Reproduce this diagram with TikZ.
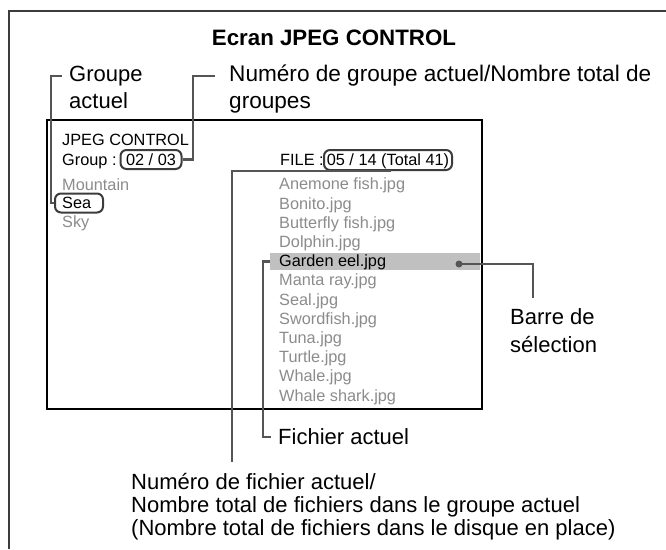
\documentclass[tikz,border=0pt]{standalone}
\usepackage{fontspec}
\setmainfont{Liberation Sans}
\definecolor{inact}{RGB}{140,140,140}
\definecolor{leadc}{RGB}{85,85,85}
\definecolor{framec}{RGB}{60,60,60}
\definecolor{barc}{RGB}{192,192,192}
\begin{document}
\begin{tikzpicture}[x=1pt,y=-1pt,
  scr/.style={inner sep=0pt, anchor=west, font=\fontsize{16.3}{19}\selectfont, text height=11.7pt, text depth=0pt},
  off/.style={scr, text=inact},
  lbl/.style={inner sep=0pt, anchor=west, font=\fontsize{22}{28}\selectfont, text height=15.8pt, text depth=0pt},
  rbox/.style={draw=framec, line width=2pt, rounded corners=6pt, inner sep=0pt, font=\fontsize{16.3}{19}\selectfont, text height=11.7pt, text depth=0pt},
  lead/.style={draw=leadc, line width=2.4pt},
]
\useasboundingbox (0,0) rectangle (666,549);
\fill[white] (0,0) rectangle (666,549);
% outer frame
\draw[framec, line width=2pt] (9,549) -- (9,11) -- (666,11);
% title
\node[font=\bfseries\fontsize{22.3}{26}\selectfont, inner sep=0pt, text height=16pt, text depth=0pt] (title) at (334,37) {Ecran JPEG CONTROL};
% screen
\node[draw=black, line width=1.5pt, minimum width=435pt, minimum height=289pt, inner sep=0pt] (screen) at (264.5,264.5) {};
\node[fill=barc, minimum width=210pt, minimum height=17.5pt, inner sep=0pt] (bar) at (375,261.5) {};
% left column
\node[scr] (jc) at (62,140) {JPEG CONTROL};
\node[scr] (grp) at (62,160) {Group :};
\node[rbox, minimum width=61pt, minimum height=19pt] (grpbox) at (151,159.5) {02 / 03};
\node[off] (mtn) at (62,184.5) {Mountain};
\node[rbox, minimum width=48pt, minimum height=19pt] (seabox) at (79,203) {};
\node[scr] (sea) at (62,203) {Sea};
\node[off] (sky) at (62,222) {Sky};
% right column
\node[scr] (file) at (280,160) {FILE :};
\node[rbox, minimum width=128pt, minimum height=20pt] (filebox) at (388,160) {05 / 14 (Total 41)};
\node[off] (f1) at (279,184) {Anemone fish.jpg};
\node[off] (f2) at (279,203.2) {Bonito.jpg};
\node[off] (f3) at (279,222.4) {Butterfly fish.jpg};
\node[off] (f4) at (279,241.6) {Dolphin.jpg};
\node[scr] (f5) at (279,260.8) {Garden eel.jpg};
\node[off] (f6) at (279,280) {Manta ray.jpg};
\node[off] (f7) at (279,299.2) {Seal.jpg};
\node[off] (f8) at (279,318.4) {Swordfish.jpg};
\node[off] (f9) at (279,337.6) {Tuna.jpg};
\node[off] (f10) at (279,356.8) {Turtle.jpg};
\node[off] (f11) at (279,376) {Whale.jpg};
\node[off] (f12) at (279,395.2) {Whale shark.jpg};
% labels
\node[lbl] (grpA) at (69,74) {Groupe};
\node[lbl] (grpB) at (69,101) {actuel};
\node[lbl, font=\fontsize{22.6}{28}\selectfont] (numA) at (229,74) {Numéro de groupe actuel/Nombre total de};
\node[lbl, font=\fontsize{22.6}{28}\selectfont] (numB) at (229,101) {groupes};
\node[lbl] (barA) at (510,317) {Barre de};
\node[lbl] (barB) at (510,345) {sélection};
\node[lbl] (fich) at (278,437) {Fichier actuel};
\node[lbl] (nfA) at (131,482) {Numéro de fichier actuel/};
\node[lbl] (nfB) at (131,505) {Nombre total de fichiers dans le groupe actuel};
\node[lbl] (nfC) at (131,527.5) {(Nombre total de fichiers dans le disque en place)};
% leaders
\coordinate (gk) at (51,76);
\draw[lead] ([xshift=-7pt,yshift=-2pt]grpA.west) -- (gk) |- (seabox.west);
\coordinate (nk) at (193,76);
\draw[lead] ([xshift=-14pt,yshift=-2pt]numA.west) -- (nk) |- (grpbox.east);
\coordinate (nfk) at (232,462);
\draw[lead] ([xshift=3pt]filebox.south) -| (nfk);
\draw[lead] (bar.west) -- ++(-7,0) |- ([xshift=-7pt]fich.west);
\node[circle, fill=leadc, inner sep=0pt, minimum size=7pt] (dot) at (459,264) {};
\coordinate (bk) at (533,298);
\draw[lead] (dot.center) -| (bk);
\end{tikzpicture}
\end{document}
